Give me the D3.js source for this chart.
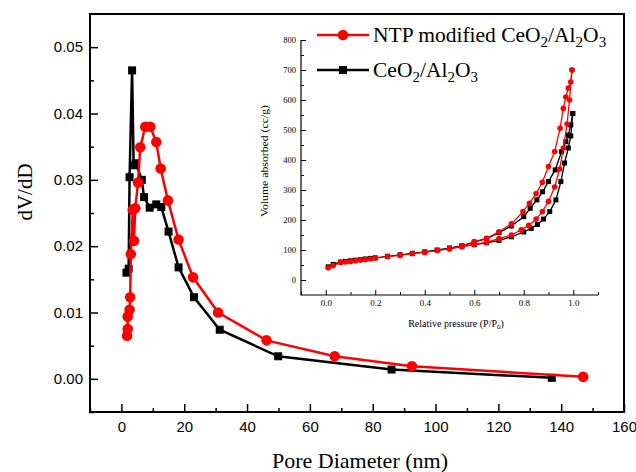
<!DOCTYPE html>
<html><head><meta charset="utf-8">
<script src="https://cdn.jsdelivr.net/npm/d3@7"></script>
<style>body{margin:0;background:#fff}svg{display:block}</style>
</head><body>
<svg id="c" width="636" height="472"></svg>
<script>
// Main chart: pore size distribution (Pore Diameter nm, dV/dD)
const ntpPSD = [[1.8,0.0065],[2.0,0.0075],[2.0,0.0094],[2.6,0.0104],[2.8,0.0123],[3.0,0.0188],[3.6,0.0255],[4.0,0.0208],[4.4,0.0257],[5.3,0.0296],[6.0,0.0349],[7.6,0.0380],[9.2,0.0380],[11.1,0.0357],[12.5,0.0317],[14.8,0.0269],[18.2,0.0210],[22.8,0.0153],[30.8,0.0100],[46.2,0.0058],[67.9,0.0034],[92.5,0.0019],[147,0.0003]];
const basePSD = [[1.6,0.0160],[2.3,0.0166],[2.6,0.0304],[3.4,0.0465],[3.9,0.0322],[4.6,0.0325],[6.5,0.0300],[7.2,0.0274],[9.0,0.0258],[11.1,0.0263],[12.7,0.0259],[15.0,0.0222],[18.2,0.0168],[23.1,0.0123],[31.3,0.0074],[49.9,0.0034],[86,0.0014],[137,0.00015]];
const xTicks = [0,20,40,60,80,100,120,140,160];
const yTicks = [0,0.01,0.02,0.03,0.04,0.05];
// Inset: N2 isotherms (Relative pressure, Volume absorbed cc/g)
const ntpAdsP = [0.01,0.03,0.06,0.08,0.10,0.12,0.14,0.16,0.18,0.20,0.25,0.30,0.35,0.40,0.45,0.50,0.55,0.60,0.65,0.70,0.75,0.79,0.82,0.85,0.875,0.90,0.925,0.945,0.96,0.975,0.985,0.995];
const ntpAdsV = [41,48,58,60,62,64,67,68,70,73,78,82,88,92,98,104,111,118,126,138,150,167,182,203,228,262,310,370,440,520,600,700];
const ntpDesP = [0.995,0.99,0.98,0.97,0.96,0.947,0.925,0.90,0.875,0.85,0.823,0.797,0.75,0.70,0.65,0.60,0.55,0.50];
const ntpDesV = [700,660,640,610,572,506,428,378,326,288,256,228,187,161,139,128,113,104];
const baseAdsP = [0.01,0.03,0.06,0.08,0.10,0.12,0.14,0.16,0.18,0.20,0.25,0.30,0.35,0.40,0.45,0.50,0.55,0.60,0.65,0.70,0.75,0.80,0.83,0.855,0.88,0.905,0.93,0.95,0.965,0.98,0.99,0.998];
const baseAdsV = [44,52,60,62,64,66,68,70,72,74,79,84,89,94,100,106,112,118,124,132,144,160,172,185,203,228,267,328,390,440,480,555];
const baseDesP = [0.998,0.99,0.98,0.97,0.953,0.927,0.90,0.876,0.853,0.826,0.80,0.75,0.70,0.65,0.60,0.55,0.50];
const baseDesV = [555,517,483,461,428,367,328,294,267,239,211,180,158,138,126,114,106];
const insetXTicks = [0,0.2,0.4,0.6,0.8,1.0];
const insetYTicks = [0,100,200,300,400,500,600,700,800];

const RED = "#ff0000", BLK = "#000000";
const svg = d3.select("#c");
const L=90, R=624, T=14, B=412;
const x = d3.scaleLinear([-10,160],[L,R]);
const y = d3.scaleLinear([-0.005,0.055],[B,T]);
const sans = "'Liberation Sans', Arial, sans-serif";
const serif = "'Liberation Serif', 'Times New Roman', serif";

function styleAxis(g, fs, ff, sw){
  g.select(".domain").remove();
  g.selectAll(".tick line").attr("stroke","#000").attr("stroke-width",sw);
  g.selectAll(".tick text").attr("font-size",fs).attr("font-family",ff).attr("fill","#000");
}
// main axes
svg.append("g").attr("transform",`translate(0,${B})`)
  .call(d3.axisBottom(x).tickValues(d3.range(-10,161,10).filter(v=>v%20!==0)).tickSize(-4).tickFormat(""))
  .call(g=>styleAxis(g,15,sans,1.5));
svg.append("g").attr("transform",`translate(0,${B})`)
  .call(d3.axisBottom(x).tickValues(xTicks).tickSize(-8).tickPadding(9).tickFormat(d3.format("d")))
  .call(g=>styleAxis(g,15,sans,1.5));
svg.append("g").attr("transform",`translate(${L},0)`)
  .call(d3.axisLeft(y).tickValues([-0.005,0.005,0.015,0.025,0.035,0.045]).tickSize(-4).tickFormat(""))
  .call(g=>styleAxis(g,15,sans,1.5));
svg.append("g").attr("transform",`translate(${L},0)`)
  .call(d3.axisLeft(y).tickValues(yTicks).tickSize(-8).tickPadding(7).tickFormat(d3.format(".2f")))
  .call(g=>styleAxis(g,15,sans,1.5));
svg.append("rect").attr("x",L).attr("y",T).attr("width",R-L).attr("height",B-T)
  .attr("fill","none").attr("stroke","#000").attr("stroke-width",2);

// axis titles
svg.append("text").attr("x",360).attr("y",468).attr("text-anchor","middle")
  .attr("font-family",serif).attr("font-size",22).text("Pore Diameter (nm)");
svg.append("text").attr("transform","translate(32,192) rotate(-90)").attr("text-anchor","middle")
  .attr("font-family",serif).attr("font-size",21).text("dV/dD");

// inset
const xi = d3.scaleLinear([-0.1,1.1],[301,598]);
const yi = d3.scaleLinear([-50,800],[295,40]);
svg.append("g").attr("transform","translate(0,295)")
  .call(d3.axisBottom(xi).tickValues([-0.1,0.1,0.3,0.5,0.7,0.9,1.1]).tickSize(-3).tickFormat(""))
  .call(g=>styleAxis(g,9,serif,1));
svg.append("g").attr("transform","translate(0,295)")
  .call(d3.axisBottom(xi).tickValues(insetXTicks).tickSize(-5).tickPadding(5).tickFormat(d3.format(".1f")))
  .call(g=>styleAxis(g,9,serif,1));
svg.append("g").attr("transform","translate(301,0)")
  .call(d3.axisLeft(yi).tickValues(d3.range(50,800,100)).tickSize(-3).tickFormat(""))
  .call(g=>styleAxis(g,8.5,serif,1));
svg.append("g").attr("transform","translate(301,0)")
  .call(d3.axisLeft(yi).tickValues(insetYTicks).tickSize(-5).tickPadding(5).tickFormat(d3.format("d")))
  .call(g=>styleAxis(g,8.5,serif,1));
svg.append("path").attr("d",`M301,${yi(800)}V295H598`).attr("fill","none").attr("stroke","#000").attr("stroke-width",1.2);
svg.append("text").attr("transform","translate(268,161) rotate(-90)").attr("text-anchor","middle")
  .attr("font-family",serif).attr("font-size",10).attr("textLength",112).attr("lengthAdjust","spacingAndGlyphs")
  .text("Volume absorbed (cc/g)");
const rp = svg.append("text").attr("x",456).attr("y",327).attr("text-anchor","middle")
  .attr("font-family",serif).attr("font-size",10);
rp.append("tspan").text("Relative pressure (P/P");
rp.append("tspan").attr("font-size",7).attr("dy",2).text("0");
rp.append("tspan").attr("dy",-2).text(")");

const lineI = d3.line().x(d=>xi(d[0])).y(d=>yi(d[1]));
function isoSeries(P,V,color,shape){
  const pts = P.map((p,i)=>[p,V[i]]);
  svg.append("path").datum(pts).attr("d",lineI).attr("fill","none").attr("stroke",color).attr("stroke-width",1.3);
  if(shape==="circle"){
    svg.append("g").selectAll("circle").data(pts).join("circle")
      .attr("cx",d=>xi(d[0])).attr("cy",d=>yi(d[1])).attr("r",2.8).attr("fill",color);
  } else {
    svg.append("g").selectAll("rect").data(pts).join("rect")
      .attr("x",d=>xi(d[0])-2.5).attr("y",d=>yi(d[1])-2.5).attr("width",5).attr("height",5).attr("fill",color);
  }
}
isoSeries(baseAdsP,baseAdsV,BLK,"square");
isoSeries(baseDesP,baseDesV,BLK,"square");
isoSeries(ntpAdsP,ntpAdsV,RED,"circle");
isoSeries(ntpDesP,ntpDesV,RED,"circle");

// main series
const lineM = d3.line().x(d=>x(d[0])).y(d=>y(d[1]));
svg.append("path").datum(basePSD).attr("d",lineM).attr("fill","none").attr("stroke",BLK).attr("stroke-width",2.5);
svg.append("g").selectAll("rect").data(basePSD).join("rect")
  .attr("x",d=>x(d[0])-4).attr("y",d=>y(d[1])-4).attr("width",8).attr("height",8).attr("fill",BLK);
svg.append("path").datum(ntpPSD).attr("d",lineM).attr("fill","none").attr("stroke",RED).attr("stroke-width",2.5);
svg.append("g").selectAll("circle").data(ntpPSD).join("circle")
  .attr("cx",d=>x(d[0])).attr("cy",d=>y(d[1])).attr("r",5.3).attr("fill",RED);

// legend
function legText(yb, parts){
  const t = svg.append("text").attr("x",373).attr("y",yb).attr("font-family",serif).attr("font-size",21.5);
  parts.forEach(p=>{
    if(p.sub){ t.append("tspan").attr("font-size",15).attr("dy",5).text(p.s); }
    else { t.append("tspan").attr("dy",p.after? -5:0).text(p.s); }
  });
}
svg.append("line").attr("x1",317).attr("x2",369).attr("y1",35).attr("y2",35).attr("stroke",RED).attr("stroke-width",2.5);
svg.append("circle").attr("cx",343).attr("cy",35).attr("r",5.3).attr("fill",RED);
legText(42,[{s:"NTP modified CeO"},{s:"2",sub:true},{s:"/Al",after:true},{s:"2",sub:true},{s:"O",after:true},{s:"3",sub:true}]);
svg.append("line").attr("x1",317).attr("x2",369).attr("y1",70).attr("y2",70).attr("stroke",BLK).attr("stroke-width",2.5);
svg.append("rect").attr("x",339).attr("y",66).attr("width",8).attr("height",8).attr("fill",BLK);
legText(77,[{s:"CeO"},{s:"2",sub:true},{s:"/Al",after:true},{s:"2",sub:true},{s:"O",after:true},{s:"3",sub:true}]);
</script>
</body></html>
